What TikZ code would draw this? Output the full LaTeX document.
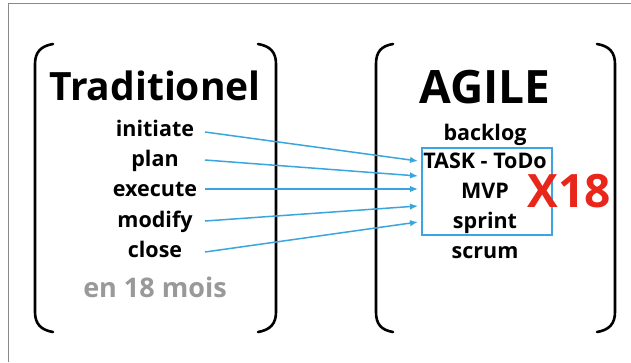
\documentclass[tikz,border=0pt]{standalone}
\usepackage{fontspec}
\setmainfont{Open Sans}[BoldFont={* Bold}]
\usetikzlibrary{arrows.meta}
\definecolor{arrowblue}{HTML}{3AA6DD}
\definecolor{xred}{HTML}{E8261A}
\definecolor{frame}{HTML}{8A8A8A}
\tikzset{
  paren/.style={line width=2.6pt, line cap=round},
  item/.style={font=\fontsize{21.5}{23}\selectfont\bfseries, inner sep=0pt, anchor=base},
  conn/.style={arrowblue, line width=1.5pt, -{Latex[length=8pt,width=6.5pt]}},
}
\begin{document}
\begin{tikzpicture}[x=1pt,y=-1pt]
\useasboundingbox (0,0) rectangle (631,362);
\fill[white] (0,0) rectangle (631,362);
% frame lines
\draw[frame, line width=1pt] (8,362) -- (8,3) -- (631,3);
% left brackets
\draw[paren] (53,44) .. controls (41,46) and (35,52) .. (35,64) -- (35,312) .. controls (35,324) and (41,330) .. (53,332);
\draw[paren] (258,44) .. controls (270,46) and (276,52) .. (276,64) -- (276,312) .. controls (276,324) and (270,330) .. (258,332);
% right brackets
\draw[paren] (393,44) .. controls (381,46) and (376,52) .. (376,64) -- (376,312) .. controls (376,324) and (381,330) .. (393,332);
\draw[paren] (597,44) .. controls (609,46) and (615,52) .. (615,64) -- (615,312) .. controls (615,324) and (609,330) .. (597,332);
% titles
\node[font=\fontsize{39}{40}\selectfont\bfseries, inner sep=0pt, anchor=base] (trad) at (155,100) {Traditionel};
\node[font=\fontsize{46}{48}\selectfont\bfseries, inner sep=0pt, anchor=base] (agile) at (485,103) {AGILE};
% left items
\node[item] (ini) at (155,136) {initiate};
\node[item] (plan) at (155,166) {plan};
\node[item] (exe) at (155,196) {execute};
\node[item] (mod) at (155,227) {modify};
\node[item] (clo) at (155,257) {close};
\node[item, text=black!40, font=\fontsize{27}{29}\selectfont\bfseries] (mois) at (155,297) {en 18 mois};
% right items
\node[item] (back) at (485,140) {backlog};
\node[item] (task) at (485,168) {TASK - ToDo};
\node[item] (mvp) at (485,198) {MVP};
\node[item] (spr) at (485,228) {sprint};
\node[item] (scr) at (485,258) {scrum};
% box
\node[draw=arrowblue, line width=1.3pt, minimum width=130pt, minimum height=87pt, inner sep=0pt] (box) at (487,191.5) {};
% X18
\node[text=xred, font=\fontsize{46}{48}\selectfont\bfseries, inner sep=0pt, anchor=base] (x18) at (569.5,207) {X18};
% connectors
\coordinate (s1) at (205,132); \coordinate (e1) at (418,161);
\coordinate (s2) at (205,160); \coordinate (e2) at (418,176);
\coordinate (s3) at (205,189); \coordinate (e3) at (418,189);
\coordinate (s4) at (205,221); \coordinate (e4) at (418,206);
\coordinate (s5) at (205,252); \coordinate (e5) at (418,222);
\draw[conn] (s1) -- (e1);
\draw[conn] (s2) -- (e2);
\draw[conn] (s3) -- (e3);
\draw[conn] (s4) -- (e4);
\draw[conn] (s5) -- (e5);
\end{tikzpicture}
\end{document}
